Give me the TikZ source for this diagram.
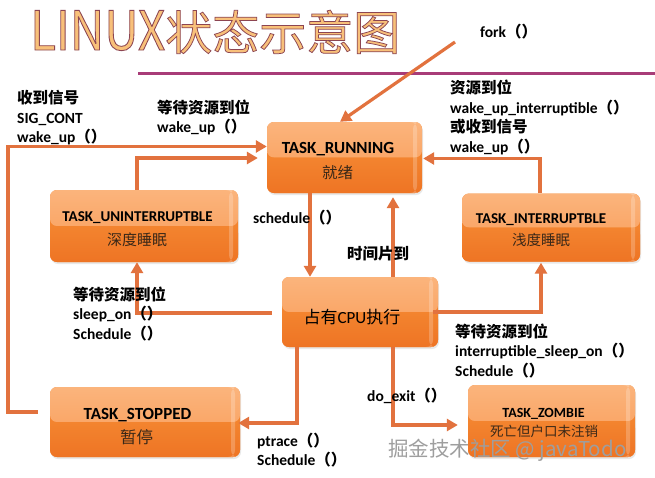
\documentclass[tikz,border=0pt]{standalone}
\usepackage{fontspec}
\setmainfont{Carlito}
\newfontfamily\cjk{Noto Sans CJK SC}
\newfontfamily\titlelat[FakeBold=1.6,FakeStretch=0.88]{Noto Sans CJK SC}
\newfontfamily\titlecjk[FakeBold=1.6]{Noto Sans CJK SC}
\usetikzlibrary{arrows.meta,calc,shadows}
\definecolor{arrowc}{HTML}{E2723E}
\definecolor{boxA}{HTML}{FBB47C}
\definecolor{boxB}{HTML}{F89A55}
\definecolor{boxC}{HTML}{F3842F}
\definecolor{boxD}{HTML}{EE7424}
\definecolor{purpleline}{HTML}{A83C78}
\definecolor{titlefill}{HTML}{F8C07A}
\definecolor{boxcjk}{HTML}{3A2818}
\newcommand\pp{{\cjk （）}}
\newcommand\cj[1]{{\cjk #1}}
\newcommand\strokebrown{\special{pdf:code 0.55 0.27 0.32 RG}}
\tikzset{
  statebox/.style={rounded corners=7pt, inner sep=0pt, fill=boxC,
    drop shadow={shadow xshift=1pt, shadow yshift=-2pt, opacity=0.18},
    path picture={
      \shade[top color=boxA, bottom color=boxB]
        (path picture bounding box.north west) rectangle (path picture bounding box.east);
      \shade[top color=boxC, bottom color=boxD]
        (path picture bounding box.west) rectangle (path picture bounding box.south east);
      \fill[white, opacity=0.22]
        ([xshift=-9pt]path picture bounding box.north east) rectangle ([xshift=-5pt]path picture bounding box.south east);
    }},
  boxtxt/.style={inner sep=0pt, text=black, font=\bfseries},
  boxsub/.style={inner sep=0pt, text=boxcjk, font=\cjk},
  lbl/.style={anchor=west, inner sep=0pt, align=left, text=black,
    font=\fontsize{15.5}{19.5}\selectfont\bfseries},
  arr/.style={draw=arrowc, line width=3.2pt, line join=miter,
    -{Triangle[length=11pt, width=12pt]}},
}
\begin{document}
\begin{tikzpicture}[x=1pt, y=-1pt]
\useasboundingbox (0,0) rectangle (655,477);
\fill[white] (0,0) rectangle (655,477);

% title
\node[anchor=base west, inner sep=0pt, text=titlefill] (title) at (30,50)
  {\fontsize{54}{54}\titlelat\strokebrown LINUX\fontsize{47}{47}\titlecjk\strokebrown 状态示意图};
\draw[line width=3pt, purpleline] (138,73) -- (655,73);

% boxes
\node[statebox, minimum width=155pt, minimum height=71pt] (run)   at (344.5,157.5) {};
\node[statebox, minimum width=188pt, minimum height=72pt] (unint) at (144,226) {};
\node[statebox, minimum width=178pt, minimum height=68pt] (inter) at (551,227.5) {};
\node[statebox, minimum width=156pt, minimum height=70pt] (cpu)   at (360,312) {};
\node[statebox, minimum width=190pt, minimum height=70pt] (stop)  at (145,422) {};
\node[statebox, minimum width=167pt, minimum height=72pt] (zomb)  at (551.5,421) {};

% box texts
\node[boxtxt, font=\fontsize{17}{17}\selectfont\bfseries] (runA) at (338,149) {TASK\_RUNNING};
\node[boxsub, font=\fontsize{15.5}{15.5}\selectfont\cjk] (runB) at (337.5,173) {就绪};
\node[boxtxt, font=\fontsize{15}{15}\selectfont\bfseries] (unintA) at (137.5,218) {TASK\_UNINTERRUPTBLE};
\node[boxsub, font=\fontsize{15}{15}\selectfont\cjk] (unintB) at (137,240) {深度睡眠};
\node[boxtxt, font=\fontsize{15}{15}\selectfont\bfseries] (interA) at (541,220) {TASK\_INTERRUPTBLE};
\node[boxsub, font=\fontsize{14.5}{14.5}\selectfont\cjk] (interB) at (541,240) {浅度睡眠};
\node[boxtxt, font=\fontsize{17}{17}\selectfont] (cpuA) at (352,317) {\cj{占有}CPU\cj{执行}};
\node[boxtxt, font=\fontsize{17}{17}\selectfont\bfseries] (stopA) at (137.5,415) {TASK\_STOPPED};
\node[boxsub, font=\fontsize{16.5}{16.5}\selectfont\cjk] (stopB) at (136.5,437) {暂停};
\node[boxtxt, font=\fontsize{14}{14}\selectfont\bfseries] (zombA) at (543.5,414) {TASK\_ZOMBIE};
\node[boxsub, font=\fontsize{13.5}{13.5}\selectfont\cjk] (zombB) at (544,431) {死亡但户口未注销};

% connectors
\coordinate (forkS) at (455,42);
\draw[arr] (forkS) -- ($(run.north)+(-4.5,0)$);

\coordinate (sigL) at (8,146.5);
\draw[arr] ($(stop.west)+(-12,-10)$) -| (sigL) -- ($(run.west)+(0,-11)$);

\draw[arr] ($(unint.north)+(-7,0)$) |- ($(run.west)+(-9,0.5)$);

\draw[arr] ($(cpu.west)+(-10,1)$) -| ($(unint.south)+(-7,0)$);

\coordinate (schA) at ($(run.south)+(-34.5,0)$);
\draw[arr] (schA) -- (schA |- cpu.north);

\coordinate (tsA) at ($(cpu.north)+(33,0)$);
\draw[arr] (tsA) -- ($(tsA |- run.south)+(0,4)$);

\draw[arr] ($(cpu.east)+(-5,0)$) -| ($(inter.south)+(-10,1)$);

\draw[arr] ($(inter.north)+(-11,0)$) |- ($(run.east)+(1,1)$);

\coordinate (exA) at ($(cpu.south)+(33,0)$);
\draw[arr] (exA) |- ($(zomb.west)+(-10,4)$);

\coordinate (ptA) at ($(cpu.south)+(-63,0)$);
\draw[arr] (ptA) |- ($(stop.east)+(-2,1)$);

% labels
\node[lbl] (fork) at (480,32) {fork\pp};
\node[lbl] (sig) at (17,118) {\cj{收到信号}\\SIG\_CONT\\wake\_up\pp};
\node[lbl] (wk1) at (157,117.5) {\cj{等待资源到位}\\wake\_up\pp};
\node[lbl] (wk2) at (450,117.5) {\cj{资源到位}\\wake\_up\_interruptible\pp\\\cj{或收到信号}\\wake\_up\pp};
\node[lbl] (sched) at (253,218) {schedule\pp};
\node[lbl] (tsl) at (347,254) {\cj{时间片到}};
\node[lbl] (sleep) at (73,314) {\cj{等待资源到位}\\sleep\_on\pp\\Schedule\pp};
\node[lbl] (isleep) at (455,351) {\cj{等待资源到位}\\interruptible\_sleep\_on\pp\\Schedule\pp};
\node[lbl] (exit) at (367,396) {do\_exit\pp};
\node[lbl] (ptrace) at (257,450) {ptrace\pp\\Schedule\pp};

% watermark
\node[anchor=west, inner sep=0pt, text=black!38, font=\fontsize{20.5}{20.5}\selectfont\cjk] (wm) at (388,450) {掘金技术社区 @ javaTodo};
\end{tikzpicture}
\end{document}
